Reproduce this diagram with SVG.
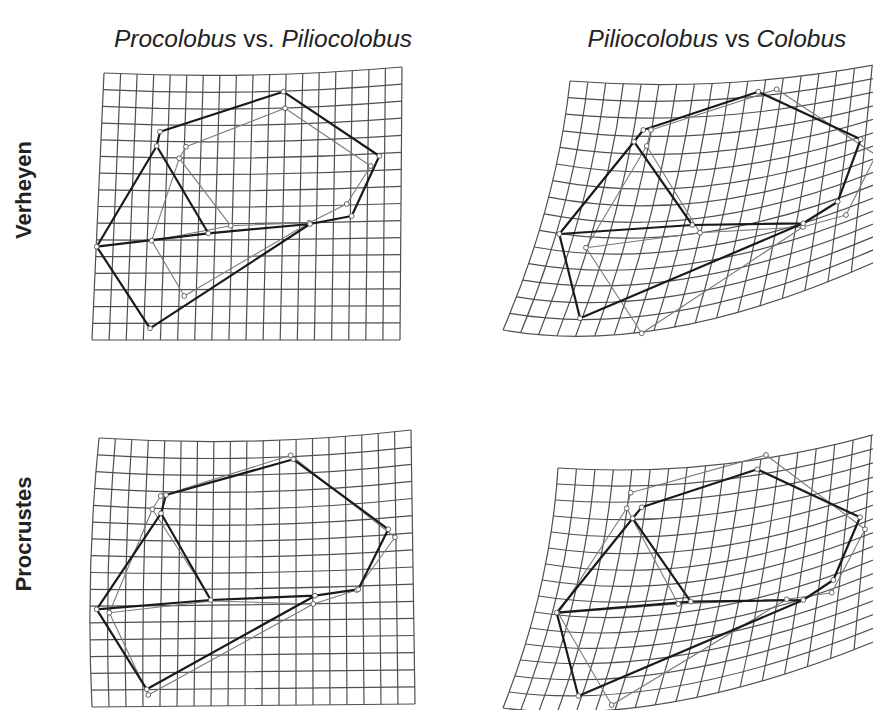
<svg xmlns="http://www.w3.org/2000/svg" width="873" height="710" viewBox="0 0 873 710">
<style>
.grid{fill:none;stroke:#4f4f4f;stroke-width:1.2}
.dk{fill:none;stroke:#1a1a1a;stroke-width:2.2;stroke-linejoin:round;stroke-linecap:round}
.lt{fill:none;stroke:#7a7a7a;stroke-width:1.1;stroke-linejoin:round}
.pt{fill:#fff;stroke:#555;stroke-width:0.9}
.title{font-family:"Liberation Sans",Arial,sans-serif;font-size:24.5px;fill:#222}
.lab{font-family:"Liberation Sans",Arial,sans-serif;font-size:22px;font-weight:bold;fill:#222}
</style>
<rect width="873" height="710" fill="#fff"/>

<g id="titles">
<text class="title" x="263" y="47" text-anchor="middle"><tspan font-style="italic">Procolobus</tspan> vs. <tspan font-style="italic">Piliocolobus</tspan></text>
<text class="title" x="717" y="47" text-anchor="middle"><tspan font-style="italic">Piliocolobus</tspan> vs <tspan font-style="italic">Colobus</tspan></text>
<text class="lab" transform="translate(31,190) rotate(-90)" text-anchor="middle">Verheyen</text>
<text class="lab" transform="translate(31,534) rotate(-90)" text-anchor="middle">Procrustes</text>
</g>

<!-- Panel 1: Verheyen, Procolobus vs Piliocolobus -->
<g id="panel-verheyen-left">
<g class="grid">
<path d="M104 73Q253 80 402 67M103.3 89.7Q252.6 96.9 401.9 84.1M102.5 106.4Q252.2 113.8 401.8 101.1M101.8 123.1Q251.7 129.7 401.6 118.2M101 139.8Q251.3 145.6 401.5 135.3M100.3 156.4Q250.9 161.4 401.4 152.3M99.5 173.1Q250.4 177.3 401.3 169.4M98.8 189.8Q250 193.1 401.1 186.4M98 206.5Q249.5 209 401 203.5M97.3 223.2Q249.1 224.9 400.9 220.6M96.5 239.9Q248.7 240.8 400.8 237.6M95.8 256.6Q248.2 256.7 400.6 254.7M95 273.3L400.5 271.8M94.3 289.9L400.4 288.8M93.5 306.6L400.3 305.9M92.8 323.3L400.1 322.9M92 340L400 340"/>
<path d="M104 73L92 340M120.6 73.7L109.1 340M137.1 74.3L126.2 340M153.7 74.8L143.3 340M170.2 75.1L160.4 340M186.8 75.3L177.6 340M203.3 75.4L194.7 340M219.9 75.4L211.8 340M236.4 75.3L228.9 340M253 75L246 340M269.6 74.6L263.1 340M286.1 74.1L280.2 340M302.7 73.4L297.3 340M319.2 72.7L314.4 340M335.8 71.8L331.6 340M352.3 70.8L348.7 340M368.9 69.7L365.8 340M385.4 68.4L382.9 340M402 67L400 340"/>
</g>
<path class="lt" d="M179.3 158.3L186 146.7L285 108.3L370.7 166L346.7 204L309.3 222.7L230.7 225.7L151.7 240.7Z M179.3 158.3L230.7 225.7 M151.7 240.7L184.3 296L309.3 222.7"/>
<path class="dk" d="M156.7 146L160 131.7L283.3 91.7L379.3 156L351.7 216L310 224L208.3 233.3L96.7 246.7Z M156.7 146L208.3 233.3 M96.7 246.7L150 328.3L310 224"/>
<g class="pt">
<circle cx="186" cy="146.7" r="2.4"/><circle cx="179.3" cy="158.3" r="2.4"/><circle cx="285" cy="108.3" r="2.4"/><circle cx="370.7" cy="166" r="2.4"/><circle cx="346.7" cy="204" r="2.4"/><circle cx="309.3" cy="222.7" r="2.4"/><circle cx="230.7" cy="225.7" r="2.4"/><circle cx="151.7" cy="240.7" r="2.4"/><circle cx="184.3" cy="296" r="2.4"/>
<circle cx="160" cy="131.7" r="2.4"/><circle cx="156.7" cy="146" r="2.4"/><circle cx="283.3" cy="91.7" r="2.4"/><circle cx="379.3" cy="156" r="2.4"/><circle cx="351.7" cy="216" r="2.4"/><circle cx="310" cy="224" r="2.4"/><circle cx="208.3" cy="233.3" r="2.4"/><circle cx="96.7" cy="246.7" r="2.4"/><circle cx="150" cy="328.3" r="2.4"/>
</g>
</g>

<!-- Panel 2: Verheyen, Piliocolobus vs Colobus -->
<g id="panel-verheyen-right">
<g class="grid">
<path d="M570 81Q556.5 205.5 503 330M587.8 82.3Q573.1 207.5 520.6 332.7M605.6 83.2Q589.9 209 538.6 334.7M623.3 83.9Q606.8 209.9 557 335.9M641.1 84.4Q623.9 210.4 575.6 336.3M658.9 84.5Q641.2 210.3 594.7 336M676.7 84.4Q658.7 209.7 614.1 334.9M694.4 84.1Q676.4 208.5 633.9 333M712.2 83.4Q694.2 206.9 654 330.4M730 82.5Q712.3 204.8 674.5 327M747.8 81.3Q730.5 202.1 695.3 322.9M765.6 79.8Q748.8 198.9 716.6 317.9M783.3 78.1Q767.4 195.2 738.1 312.2M801.1 76.1Q786.1 190.9 760 305.8M818.9 73.8Q805 186.2 782.3 298.6M836.7 71.3Q824.1 180.9 804.9 290.6M854.4 68.5Q843.4 175.2 827.9 281.8M872.2 65.4Q862.9 168.8 851.3 272.3M890 62Q882.5 162 875 262"/>
<path d="M570 81Q730 93.5 890 62M568 97.6Q726.6 111.1 889 75.3M565.7 114.2Q723 128.8 888 88.7M563 130.8Q719.2 150.4 887 102M560 147.4Q715.2 171 886 115.3M556.5 164Q711.1 190.7 885 128.7M552.8 180.6Q706.8 209.3 884 142M548.7 197.2Q702.3 226.9 883 155.3M544.2 213.8Q697.6 243.6 882 168.7M539.4 230.4Q692.8 259.2 881 182M534.2 247Q687.8 274.8 880 195.3M528.7 263.6Q682.6 290.5 879 208.7M522.8 280.2Q677.2 305.1 878 222M516.6 296.8Q671.6 322.7 877 235.3M510 313.4Q665.9 340.4 876 248.7M503 330Q660 358 875 262"/>
</g>
<path class="lt" d="M646.7 146L651 130L776.7 89.3L876 155L846 215L803 227L700 232.7L586 247.7Z M646.7 146L700 232.7 M586 247.7L641.7 333.3L803 227"/>
<path class="dk" d="M634 141.7L643.3 130L758.3 91.7L860.7 139.3L837.7 201.7L803.3 223.3L692.3 225L559.3 234Z M634 141.7L692.3 225 M559.3 234L580 318.3L803.3 223.3"/>
<g class="pt">
<circle cx="651" cy="130" r="2.4"/><circle cx="646.7" cy="146" r="2.4"/><circle cx="776.7" cy="89.3" r="2.4"/><circle cx="846" cy="215" r="2.4"/><circle cx="803" cy="227" r="2.4"/><circle cx="700" cy="232.7" r="2.4"/><circle cx="586" cy="247.7" r="2.4"/><circle cx="641.7" cy="333.3" r="2.4"/>
<circle cx="643.3" cy="130" r="2.4"/><circle cx="634" cy="141.7" r="2.4"/><circle cx="758.3" cy="91.7" r="2.4"/><circle cx="860.7" cy="139.3" r="2.4"/><circle cx="837.7" cy="201.7" r="2.4"/><circle cx="803.3" cy="223.3" r="2.4"/><circle cx="692.3" cy="225" r="2.4"/><circle cx="559.3" cy="234" r="2.4"/><circle cx="580" cy="318.3" r="2.4"/>
</g>
</g>

<!-- Panel 3: Procrustes, Procolobus vs Piliocolobus -->
<g id="panel-procrustes-left">
<g class="grid">
<path d="M99 438Q255 448 411 430M97.4 454.8Q255 465 411.3 447.1M95.9 471.6Q254.8 482 411.5 464.3M94.7 488.4Q254.8 498.9 411.8 481.4M93.5 505.3Q254.7 515.9 412 498.5M92.5 522.1Q254.6 530.9 412.3 515.6M91.7 538.9Q254.5 545.9 412.5 532.8M91 555.7Q254.4 560.8 412.8 549.9M90.5 572.5Q254.3 575.8 413 567M90.2 589.3Q254.2 590.7 413.3 584.1M89.9 606.1Q254.1 605.7 413.5 601.3M89.9 622.9L413.8 618.4M90 639.8L414 635.5M90.3 656.6L414.3 652.6M90.7 673.4L414.5 669.8M91.2 690.2L414.8 686.9M92 707L415 704"/>
<path d="M99 438Q85.5 572.5 92 707M115.4 439Q104.2 572.9 109 706.8M131.8 439.8Q122.9 573.3 126 706.7M148.3 440.4Q141.7 573.5 143 706.5M164.7 440.9Q160.4 573.7 160 706.4M181.1 441.3L177 706.2M197.5 441.5L194 706.1M213.9 441.6L211 705.9M230.4 441.4L228 705.7M246.8 441.2L245 705.6M263.2 440.8L262 705.4M279.6 440.2L279 705.3M296.1 439.4L296 705.1M312.5 438.5L313 704.9M328.9 437.5L330 704.8M345.3 436.3L347 704.6M361.7 435L364 704.5M378.2 433.4L381 704.3M394.6 431.8L398 704.2M411 430L415 704"/>
</g>
<path class="lt" d="M152.3 509.3L160.7 496L290.7 455.3L395 537.3L356.7 590L313.3 604L212 601L109.3 612.7Z M152.3 509.3L212 601 M109.3 612.7L148.3 695L313.3 604"/>
<path class="dk" d="M161 513.3L166 495L293.3 459.3L388.3 529.3L358.3 589.3L315 595.7L210.7 600L96.7 609.3Z M161 513.3L210.7 600 M96.7 609.3L146.7 689.3L315 595.7"/>
<g class="pt">
<circle cx="160.7" cy="496" r="2.4"/><circle cx="152.3" cy="509.3" r="2.4"/><circle cx="290.7" cy="455.3" r="2.4"/><circle cx="395" cy="537.3" r="2.4"/><circle cx="356.7" cy="590" r="2.4"/><circle cx="313.3" cy="604" r="2.4"/><circle cx="109.3" cy="612.7" r="2.4"/><circle cx="148.3" cy="695" r="2.4"/>
<circle cx="166" cy="495" r="2.4"/><circle cx="161" cy="513.3" r="2.4"/><circle cx="293.3" cy="459.3" r="2.4"/><circle cx="388.3" cy="529.3" r="2.4"/><circle cx="358.3" cy="589.3" r="2.4"/><circle cx="315" cy="595.7" r="2.4"/><circle cx="210.7" cy="600" r="2.4"/><circle cx="96.7" cy="609.3" r="2.4"/><circle cx="146.7" cy="689.3" r="2.4"/>
</g>
</g>

<!-- Panel 4: Procrustes, Piliocolobus vs Colobus -->
<g id="panel-procrustes-right">
<g class="grid">
<path d="M558 468Q550.5 588 503 708M576.4 469Q567.5 589.5 520.8 710M594.9 469.7Q584.7 590.5 538.9 711.3M613.3 470Q602.1 591 557.4 712M631.8 469.9Q619.7 590.9 576.3 711.9M650.2 469.5Q637.5 590.3 595.5 711.2M668.7 468.7Q655.4 589.2 615.1 709.8M687.1 467.5Q673.5 587.6 635.1 707.7M705.6 465.9Q691.8 585.4 655.3 704.9M724 464Q710.3 582.8 676 701.5M742.4 461.7Q728.9 579.6 697 697.4M760.9 459Q747.7 575.8 718.4 692.6M779.3 456Q766.7 571.5 740.1 687.1M797.8 452.6Q785.9 566.8 762.2 680.9M816.2 448.8Q805.3 561.5 784.6 674.1M834.7 444.7Q824.8 555.7 807.4 666.6M853.1 440.2Q844.5 549.3 830.6 658.5M871.6 435.3Q864.4 542.4 854.1 649.6M890 430Q884 535 878 640"/>
<path d="M558 468Q724 479 890 430M556.8 484Q721 495.7 889.2 444M555.3 500Q717.9 512.3 888.4 458M553.4 516Q714.6 533 887.6 472M551.2 532Q711 552.7 886.8 486M548.5 548Q707.4 571.3 886 500M545.6 564Q703.5 589 885.2 514M542.3 580Q699.5 605.7 884.4 528M538.6 596Q695.2 621.3 883.6 542M534.6 612Q690.9 636 882.8 556M530.2 628Q686.3 650.7 882 570M525.5 644Q681.5 665.3 881.2 584M520.4 660Q676.6 679 880.4 598M515 676Q671.5 695.7 879.6 612M509.2 692Q666.2 712.3 878.8 626M503 708Q661.5 729 878 640"/>
</g>
<path class="lt" d="M626.7 508.3L630.7 492.7L766 455L865 529.3L831.7 592.7L786.7 599.3L678.3 604L558.3 613.3Z M626.7 508.3L678.3 604 M558.3 613.3L611.7 705L786.7 599.3"/>
<path class="dk" d="M632.7 518.3L641.7 507.3L757.3 469.3L860 517.3L833.3 580L803.3 600L690.7 601.7L556.7 612.7Z M632.7 518.3L690.7 601.7 M556.7 612.7L578.3 696L803.3 600"/>
<g class="pt">
<circle cx="630.7" cy="492.7" r="2.4"/><circle cx="626.7" cy="508.3" r="2.4"/><circle cx="766" cy="455" r="2.4"/><circle cx="865" cy="529.3" r="2.4"/><circle cx="831.7" cy="592.7" r="2.4"/><circle cx="786.7" cy="599.3" r="2.4"/><circle cx="678.3" cy="604" r="2.4"/><circle cx="611.7" cy="705" r="2.4"/>
<circle cx="641.7" cy="507.3" r="2.4"/><circle cx="632.7" cy="518.3" r="2.4"/><circle cx="757.3" cy="469.3" r="2.4"/><circle cx="860" cy="517.3" r="2.4"/><circle cx="833.3" cy="580" r="2.4"/><circle cx="803.3" cy="600" r="2.4"/><circle cx="690.7" cy="601.7" r="2.4"/><circle cx="556.7" cy="612.7" r="2.4"/><circle cx="578.3" cy="696" r="2.4"/>
</g>
</g>
</svg>
